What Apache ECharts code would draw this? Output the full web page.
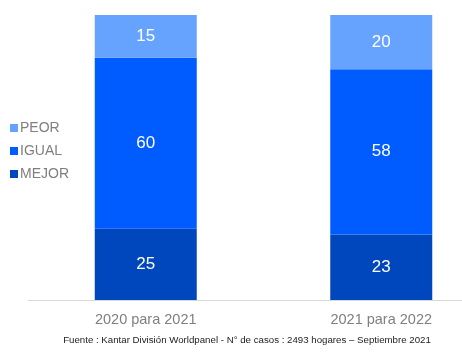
<!DOCTYPE html>
<html>
<head>
<meta charset="utf-8">
<script src="https://cdn.jsdelivr.net/npm/echarts@6/dist/echarts.min.js"></script>
<style>
  html, body { margin: 0; padding: 0; background: #fff; }
  #main { width: 462px; height: 352px; }
</style>
</head>
<body>
<div id="main"></div>
<script>
// categorías y valores (%)
var categories = ['2020 para 2021', '2021 para 2022'];
var mejor = [25, 23];
var igual = [60, 58];
var peor = [15, 20];
var fuente = 'Fuente : Kantar División Worldpanel - N° de casos : 2493 hogares – Septiembre 2021';

var labelStyle = {
  show: true,
  position: 'inside',
  color: '#ffffff',
  fontSize: 17,
  fontFamily: 'Liberation Sans, Arial, sans-serif'
};

var myChart = echarts.init(document.getElementById('main'));
myChart.setOption({
  animation: false,
  textStyle: {fontFamily: 'Liberation Sans, Arial, sans-serif'},
  legend: {
    orient: 'vertical',
    left: 5,
    top: 116,
    itemWidth: 8,
    itemHeight: 8,
    itemGap: 9,
    icon: 'rect',
    data: ['PEOR', 'IGUAL', 'MEJOR'],
    textStyle: {color: '#7f7f7f', fontSize: 14, padding: [0, 0, 0, -3]}
  },
  graphic: [{
    type: 'text',
    x: 247,
    y: 335,
    style: {text: fuente, fill: '#222', fontSize: 9.7, align: 'center',
      fontFamily: 'Liberation Sans, Arial, sans-serif'}
  }],
  // el área de trazado sale por la derecha, como en el original
  grid: {left: 28, width: 471, top: 15, height: 285, outerBoundsMode: 'none', containLabel: false},
  xAxis: {
    type: 'category',
    data: categories,
    axisLine: {lineStyle: {color: '#d9d9d9'}},
    axisTick: {show: false},
    axisLabel: {color: '#7f7f7f', fontSize: 14.5, margin: 12}
  },
  yAxis: {
    type: 'value',
    min: 0,
    max: 100,
    show: false
  },
  series: [
    {name: 'MEJOR', type: 'bar', stack: 'a', data: mejor, barWidth: 102,
      itemStyle: {color: '#0047bd'}, label: labelStyle},
    {name: 'IGUAL', type: 'bar', stack: 'a', data: igual, barWidth: 102,
      itemStyle: {color: '#005cff'}, label: labelStyle},
    {name: 'PEOR', type: 'bar', stack: 'a', data: peor, barWidth: 102,
      itemStyle: {color: '#66a3ff'}, label: labelStyle}
  ]
});
</script>
</body>
</html>
